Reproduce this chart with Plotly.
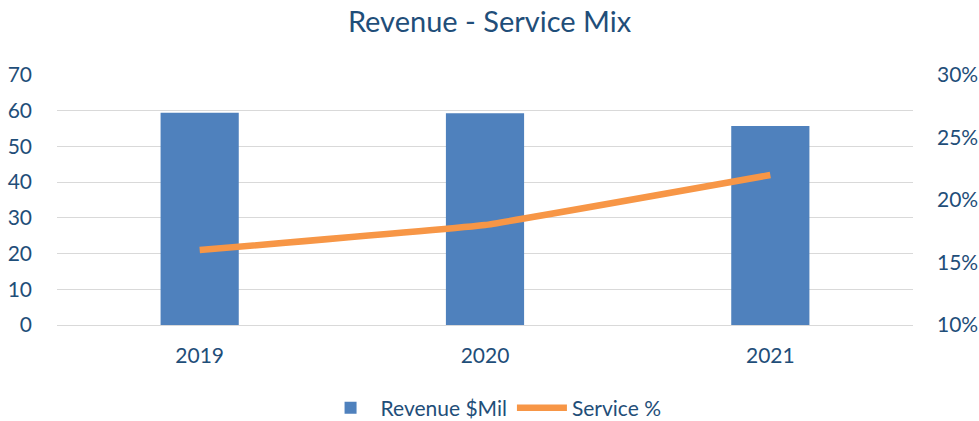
import plotly.graph_objects as go

years = ["2019", "2020", "2021"]
revenue = [59.4, 59.3, 55.7]
service_pct = [0.16, 0.18, 0.22]

left_ticks = [0, 10, 20, 30, 40, 50, 60, 70]
right_ticks = [0.10, 0.15, 0.20, 0.25, 0.30]

FONT = "Lato, Carlito, Calibri, sans-serif"
TXT = "#1F4E79"
GRID = "#D9D9D9"

fig = go.Figure()
fig.add_trace(go.Bar(
    x=years, y=revenue, name="Revenue $Mil",
    marker=dict(color="#4F81BD", line=dict(width=0)),
    width=0.274, yaxis="y",
))
fig.add_trace(go.Scatter(
    x=years, y=service_pct, name="Service %", mode="lines",
    line=dict(color="#F79646", width=6.5, shape="spline", smoothing=0.2),
    yaxis="y2",
))

fig.update_layout(
    width=979, height=421,
    margin=dict(l=57, r=66, t=75, b=96, autoexpand=False),
    paper_bgcolor="white", plot_bgcolor="white",
    font=dict(family=FONT, color=TXT, size=21),
    title=dict(text="Revenue - Service Mix", x=0.5, xanchor="center",
               y=1 - 22 / 421, yanchor="middle", yref="container",
               font=dict(size=29, color=TXT, family=FONT)),
    showlegend=True,
    legend=dict(orientation="h", x=0.51, xanchor="center", y=-0.332, yanchor="middle",
                font=dict(size=21, color=TXT), itemwidth=50, traceorder="normal"),
    xaxis=dict(showgrid=False, showline=False, ticks="", ticklabelstandoff=16,
               automargin=False, tickfont=dict(size=21, color=TXT)),
    yaxis=dict(range=[0, 70], tickvals=left_ticks, showgrid=True, gridcolor=GRID, gridwidth=1,
               zeroline=True, zerolinecolor=GRID, zerolinewidth=1, showline=False,
               automargin=False, ticklabelstandoff=24, tickfont=dict(size=21, color=TXT)),
    yaxis2=dict(range=[0.10, 0.30], tickvals=right_ticks, tickformat=".0%", overlaying="y",
                side="right", showgrid=False, zeroline=False, showline=False,
                automargin=False, ticklabelstandoff=23, tickfont=dict(size=21, color=TXT)),
)

fig.write_html("out.html", config={"displayModeBar": False},
               post_script="document.body.style.margin='0';document.body.style.overflow='hidden';")
